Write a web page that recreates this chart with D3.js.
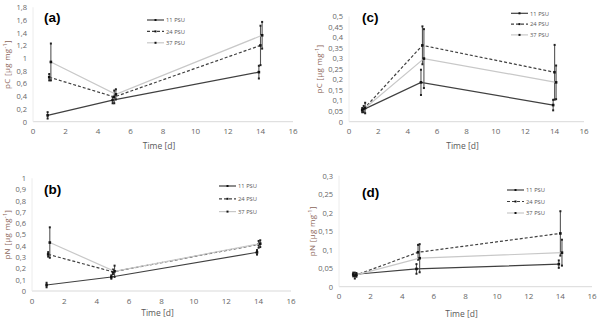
<!DOCTYPE html>
<html>
<head>
<meta charset="utf-8">
<script src="https://cdn.jsdelivr.net/npm/d3@7"></script>
<style>
  body { margin: 0; background: #fff; }
  svg { display: block; font-family: "Open Sans", "Liberation Sans", sans-serif; }
</style>
</head>
<body>
<div id="chart"></div>
<script>
// series and sampling days (small offsets as in the figure)
const seriesNames = ["11 PSU", "24 PSU", "37 PSU"];
const days = [[0.9, 4.9, 13.9], [1.0, 5.0, 14.0], [1.1, 5.1, 14.1]];

// (a) pC, first experiment
const meanA = [[0.10, 0.34, 0.78], [0.70, 0.39, 1.20], [0.94, 0.43, 1.36]];
const errA = [[0.05, 0.05, 0.10], [0.05, 0.10, 0.31], [0.29, 0.08, 0.21]];
// (b) pN, first experiment
const meanB = [[0.053, 0.124, 0.343], [0.325, 0.17, 0.414], [0.43, 0.175, 0.42]];
const errB = [[0.02, 0.015, 0.02], [0.02, 0.02, 0.03], [0.135, 0.05, 0.03]];
// (c) pC, second experiment
const meanC = [[0.055, 0.187, 0.079], [0.06, 0.363, 0.235], [0.065, 0.30, 0.187]];
const errC = [[0.01, 0.06, 0.025], [0.015, 0.09, 0.13], [0.025, 0.14, 0.08]];
// (d) pN, second experiment
const meanD = [[0.033, 0.048, 0.061], [0.03, 0.093, 0.144], [0.032, 0.077, 0.092]];
const errD = [[0.005, 0.013, 0.01], [0.008, 0.02, 0.06], [0.005, 0.038, 0.035]];

const xTicks = [0, 2, 4, 6, 8, 10, 12, 14, 16];
const yTicksA = d3.range(0, 1.81, 0.2);
const yTicksB = d3.range(0, 1.01, 0.1);
const yTicksC = d3.range(0, 0.501, 0.05);
const yTicksD = d3.range(0, 0.301, 0.05);

const width = 600, height = 323;
const lineColors = ["#404040", "#404040", "#c8c8c8"];
const dashes = [null, "3,2", null];

const panels = [
  { tag: "(a)", ylab: "pC", mean: meanA, err: errA, ticks: yTicksA, fmt: 1,
    x0: 33, x1: 293, yb: 121.7, yt: 7.3, tx: 44, ty: 22, lx: 147, ly: 20, lstep: 11.4, yl: 9.5, xl: 149 },
  { tag: "(c)", ylab: "pC", mean: meanC, err: errC, ticks: yTicksC, fmt: 2,
    x0: 349, x1: 584, yb: 121.7, yt: 16.5, tx: 362, ty: 22, lx: 511, ly: 13.3, lstep: 10.8, yl: 322, xl: 149 },
  { tag: "(b)", ylab: "pN", mean: meanB, err: errB, ticks: yTicksB, fmt: 1,
    x0: 32, x1: 291, yb: 291, yt: 178.3, tx: 44, ty: 194, lx: 219, ly: 186, lstep: 12.8, yl: 9.5, xl: 316 },
  { tag: "(d)", ylab: "pN", mean: meanD, err: errD, ticks: yTicksD, fmt: 2,
    x0: 339, x1: 592, yb: 286.7, yt: 175.7, tx: 362, ty: 197, lx: 507, ly: 190, lstep: 11.5, yl: 315, xl: 317 }
];

const svg = d3.select("#chart").append("svg")
  .attr("width", width)
  .attr("height", height);

function commaFmt(v, digits) {
  if (Math.abs(v) < 1e-9) return "0";
  let s = (+v.toFixed(digits)).toString();
  return s.replace(".", ",");
}

panels.forEach(p => {
  const yMax = p.ticks[p.ticks.length - 1];
  const x = d3.scaleLinear().domain([0, 16]).range([p.x0, p.x1]);
  const y = d3.scaleLinear().domain([0, yMax]).range([p.yb, p.yt]);
  const g = svg.append("g");

  // axes lines
  g.append("line").attr("x1", p.x0).attr("x2", p.x1).attr("y1", p.yb).attr("y2", p.yb)
    .attr("stroke", "#d9d9d9").attr("stroke-width", 1);
  g.append("line").attr("x1", p.x0).attr("x2", p.x0).attr("y1", p.yb).attr("y2", p.yt)
    .attr("stroke", "#ececec").attr("stroke-width", 1);

  // tick labels
  g.selectAll(".xt").data(xTicks).enter().append("text")
    .attr("x", d => x(d)).attr("y", p.yb + 12.5)
    .attr("text-anchor", "middle").attr("font-size", 8).attr("fill", "#666")
    .text(d => d);
  g.selectAll(".yt").data(p.ticks).enter().append("text")
    .attr("x", p.x0 - 6).attr("y", d => y(d) + 2.8)
    .attr("text-anchor", "end").attr("font-size", 7.5).attr("fill", "#666")
    .text(d => commaFmt(d, p.fmt));

  // axis titles
  g.append("text").attr("x", (p.x0 + p.x1) / 2 - 4).attr("y", p.xl)
    .attr("text-anchor", "middle").attr("font-size", 8.5).attr("fill", "#595959")
    .text("Time [d]");
  const ylt = g.append("text")
    .attr("transform", `translate(${p.yl},${(p.yb + p.yt) / 2}) rotate(-90)`)
    .attr("text-anchor", "middle").attr("font-size", 8).attr("fill", "#8a6458")
    .attr("letter-spacing", 0.3);
  ylt.append("tspan").text(p.ylab + " [µg  mg");
  ylt.append("tspan").attr("font-size", 5.5).attr("dy", -3).text("-1");
  ylt.append("tspan").attr("dy", 3).text("]");

  // panel tag
  g.append("text").attr("x", p.tx).attr("y", p.ty)
    .attr("font-size", 13.5).attr("font-weight", "bold").attr("fill", "#000")
    .attr("font-family", "Liberation Sans, Arial, sans-serif")
    .text(p.tag);

  // series
  p.mean.forEach((vals, si) => {
    const pts = vals.map((v, i) => ({ t: days[si][i], v: v, e: p.err[si][i] }));
    g.append("path").datum(pts)
      .attr("fill", "none")
      .attr("stroke", lineColors[si])
      .attr("stroke-width", 1.2)
      .attr("stroke-dasharray", dashes[si])
      .attr("d", d3.line().x(d => x(d.t)).y(d => y(d.v)));

    const eb = g.selectAll(null).data(pts).enter().append("g");
    eb.append("line")
      .attr("x1", d => x(d.t)).attr("x2", d => x(d.t))
      .attr("y1", d => y(d.v - d.e)).attr("y2", d => y(d.v + d.e))
      .attr("stroke", "#555").attr("stroke-width", 1.1);
    [-1, 1].forEach(sign => {
      eb.append("rect")
        .attr("x", d => x(d.t) - 1).attr("y", d => y(d.v + sign * d.e) - 1)
        .attr("width", 2).attr("height", 2).attr("fill", "#222");
    });
    eb.append("rect")
      .attr("x", d => x(d.t) - 1.3).attr("y", d => y(d.v) - 1.3)
      .attr("width", 2.6).attr("height", 2.6).attr("fill", "#111");
  });

  // legend
  const lg = g.selectAll(".lg").data(seriesNames).enter().append("g")
    .attr("transform", (d, i) => `translate(${p.lx},${p.ly + i * p.lstep})`);
  lg.append("line").attr("x1", 0).attr("x2", 17).attr("y1", 0).attr("y2", 0)
    .attr("stroke", (d, i) => lineColors[i]).attr("stroke-width", 1.2)
    .attr("stroke-dasharray", (d, i) => dashes[i]);
  lg.append("rect").attr("x", 7.5).attr("y", -1).attr("width", 2).attr("height", 2).attr("fill", "#111");
  lg.append("text").attr("x", 19).attr("y", 2.2)
    .attr("font-size", 5.8).attr("fill", "#595959").text(d => d);
});
</script>
</body>
</html>
